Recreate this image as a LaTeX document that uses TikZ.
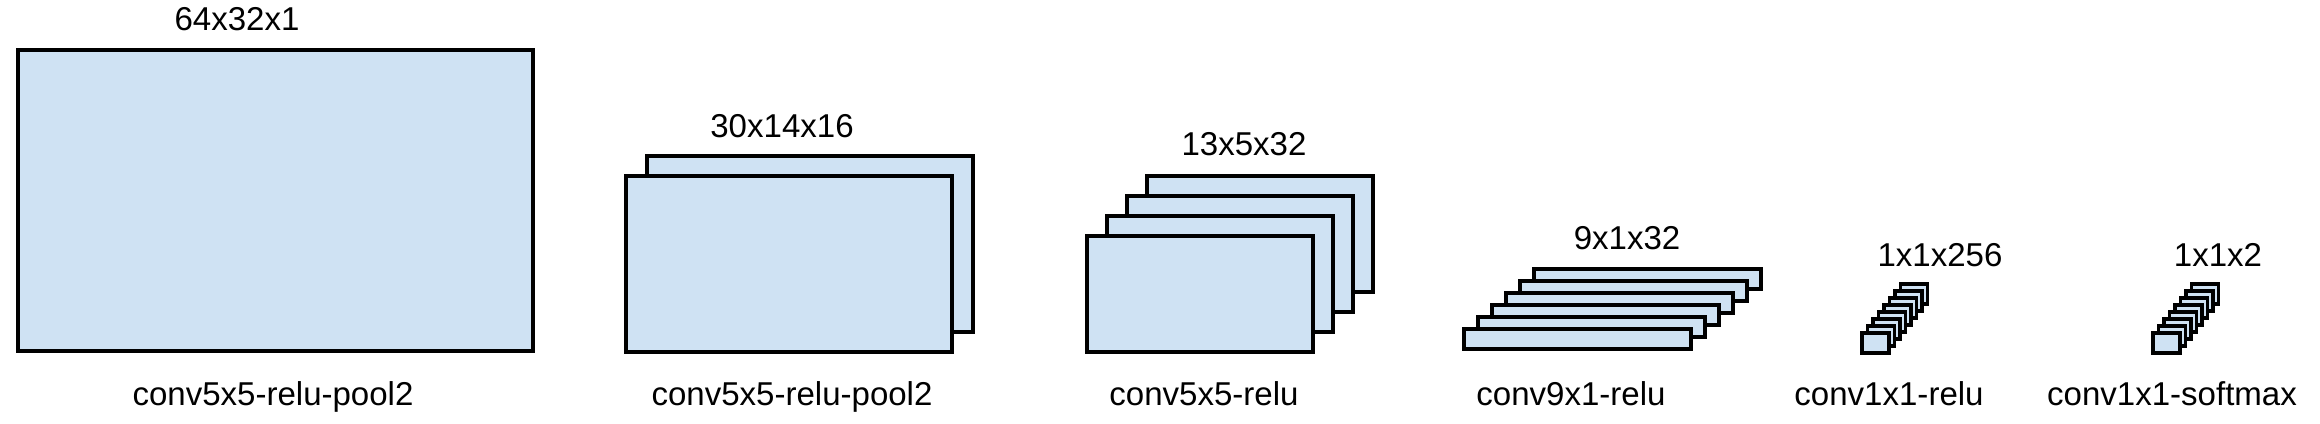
\documentclass[tikz,border=0pt]{standalone}
\definecolor{mapblue}{RGB}{207, 226, 243}
\usepackage{fontspec}
\setmainfont{Liberation Sans}
\usepackage{tikz}
\usetikzlibrary{positioning, calc}

\tikzset{
  fmap/.style={draw=black, fill=mapblue, line width=0.95pt, line join=miter},
  dimlbl/.style={anchor=base, inner sep=0pt, font=\fontsize{9.4}{11}\selectfont},
  laylbl/.style={anchor=base, inner sep=0pt, font=\fontsize{9.4}{11}\selectfont}
}

\begin{document}
\begin{tikzpicture}[x=0.1mm, y=-0.1mm]
  \useasboundingbox (0,0) rectangle (2320,423);
  \draw[fmap] (18,351) rectangle ++(515,-301);
  \foreach \k in {1,0} \draw[fmap] ({626+21*\k},{352-20*\k}) rectangle ++(326,-176);
  \foreach \k in {3,...,0} \draw[fmap] ({1087+20*\k},{352-20*\k}) rectangle ++(226,-116);
  \foreach \k in {5,...,0} \draw[fmap] ({1464+14*\k},{349-12*\k}) rectangle ++(227,-20);
  \foreach \k in {7,...,0} \draw[fmap] ({1862+5.5*\k},{353-7*\k}) rectangle ++(27,-20);
  \foreach \k in {7,...,0} \draw[fmap] ({2153+5.5*\k},{353-7*\k}) rectangle ++(27,-20);

  \node[dimlbl] (dim1) at (237,30) {64x32x1};
  \node[dimlbl] (dim2) at (782,137) {30x14x16};
  \node[dimlbl] (dim3) at (1244,155) {13x5x32};
  \node[dimlbl] (dim4) at (1627,249) {9x1x32};
  \node[dimlbl] (dim5) at (1940,266) {1x1x256};
  \node[dimlbl] (dim6) at (2218,266) {1x1x2};

  \node[laylbl] (lay1) at (273,405) {conv5x5-relu-pool2};
  \node[laylbl] (lay2) at (792,405) {conv5x5-relu-pool2};
  \node[laylbl] (lay3) at (1204,405) {conv5x5-relu};
  \node[laylbl] (lay4) at (1571,405) {conv9x1-relu};
  \node[laylbl] (lay5) at (1889,405) {conv1x1-relu};
  \node[laylbl] (lay6) at (2172,405) {conv1x1-softmax};
\end{tikzpicture}
\end{document}
